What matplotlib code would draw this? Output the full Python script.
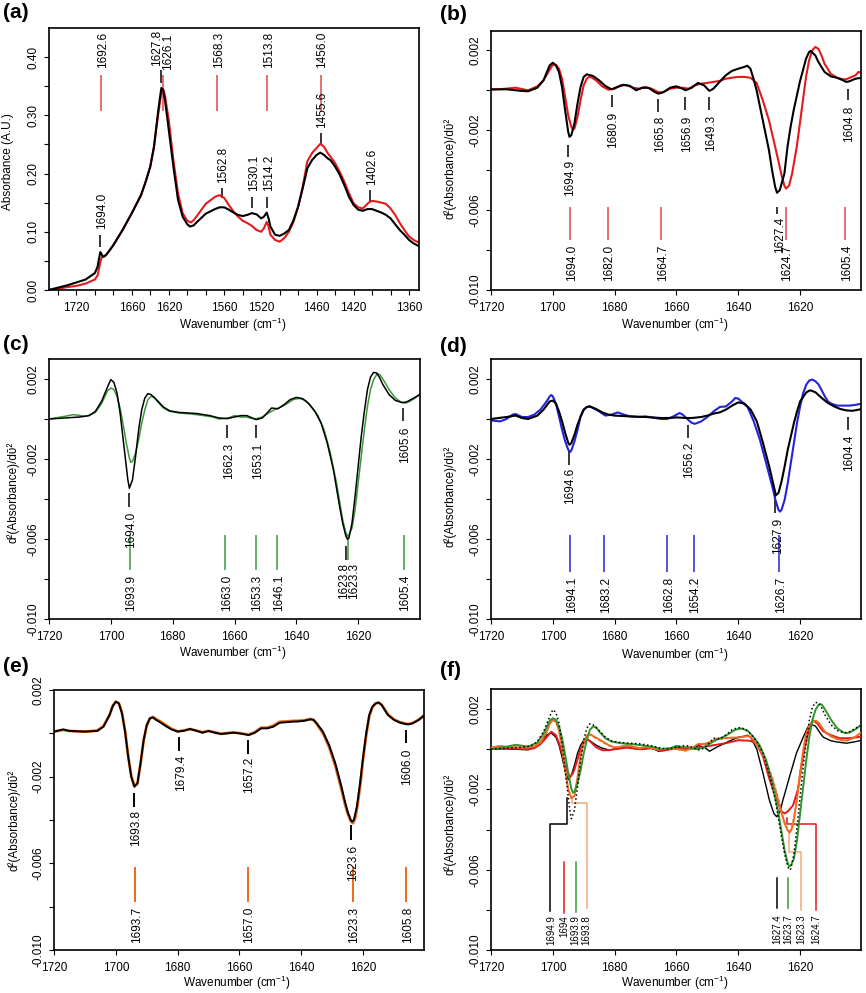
import matplotlib
matplotlib.use('Agg')
import matplotlib.pyplot as plt
from matplotlib import transforms

plt.rcParams['font.family'] = ['Liberation Sans', 'DejaVu Sans']
plt.rcParams['mathtext.fontset'] = 'custom'
plt.rcParams['mathtext.rm'] = 'Liberation Sans'
plt.rcParams['mathtext.it'] = 'Liberation Sans:italic'

# ---------------- data (wavenumber, value) ----------------
a_black = [(1750,0.0),(1740,0.004),(1730,0.008),(1720,0.013),(1710,0.018),(1700,0.029),(1697,0.040),(1695,0.058),(1694,0.065),
           (1693,0.062),(1691,0.057),(1688,0.060),(1685,0.066),(1680,0.077),(1670,0.103),(1660,0.132),(1650,0.163),(1645,0.186),
           (1640,0.212),(1636,0.246),(1632,0.300),(1630,0.325),(1628,0.347),(1626,0.343),(1624,0.325),(1622,0.300),(1620,0.275),
           (1615,0.212),(1610,0.155),(1605,0.126),(1600,0.113),(1597,0.109),(1593,0.111),(1590,0.116),(1580,0.131),(1570,0.139),
           (1565,0.142),(1560,0.142),(1555,0.138),(1550,0.133),(1545,0.129),(1540,0.127),(1535,0.129),(1530,0.132),(1525,0.130),
           (1520,0.123),(1517,0.126),(1514,0.133),(1512,0.123),(1510,0.109),(1505,0.095),(1500,0.093),(1495,0.097),(1490,0.103),
           (1485,0.120),(1480,0.143),(1475,0.175),(1470,0.209),(1465,0.223),(1460,0.232),(1456,0.236),(1452,0.232),(1448,0.226),
           (1445,0.223),(1440,0.212),(1435,0.198),(1430,0.180),(1425,0.160),(1420,0.146),(1415,0.138),(1410,0.136),(1405,0.139),
           (1402,0.139),(1400,0.139),(1395,0.136),(1390,0.133),(1385,0.129),(1380,0.123),(1375,0.113),(1370,0.103),(1365,0.095),
           (1360,0.086),(1355,0.080),(1349,0.075)]
a_red = [(1750,0.0),(1740,0.002),(1730,0.005),(1720,0.007),(1710,0.011),(1700,0.018),(1697,0.025),(1695,0.040),(1694,0.049),
         (1692,0.058),(1690,0.057),(1688,0.060),(1685,0.066),(1680,0.077),(1670,0.103),(1660,0.132),(1650,0.163),(1645,0.186),
         (1640,0.212),(1636,0.246),(1632,0.295),(1630,0.318),(1628,0.338),(1626,0.345),(1624,0.333),(1622,0.312),(1620,0.292),
         (1615,0.223),(1610,0.166),(1605,0.132),(1600,0.119),(1596,0.116),(1593,0.120),(1590,0.126),(1580,0.148),(1570,0.160),
         (1565,0.163),(1560,0.158),(1555,0.146),(1550,0.135),(1545,0.126),(1540,0.119),(1535,0.115),(1530,0.110),(1525,0.103),
         (1520,0.100),(1517,0.106),(1514,0.117),(1512,0.109),(1510,0.095),(1505,0.086),(1500,0.083),(1495,0.089),(1490,0.100),
         (1485,0.117),(1480,0.143),(1475,0.178),(1470,0.221),(1465,0.235),(1460,0.244),(1456,0.251),(1452,0.246),(1448,0.235),
         (1445,0.229),(1440,0.218),(1435,0.203),(1430,0.186),(1425,0.166),(1420,0.149),(1415,0.142),(1410,0.140),(1405,0.148),
         (1402,0.152),(1400,0.153),(1395,0.152),(1390,0.150),(1385,0.148),(1380,0.140),(1375,0.129),(1370,0.115),(1365,0.103),
         (1360,0.092),(1355,0.086),(1349,0.081)]

b_black = [(1720,0.00005),(1715,0.00005),(1710,-0.00003),(1708,-0.00005),(1705,0.00013),(1703,0.0005),(1701,0.00125),(1700,0.00138),
           (1699,0.00125),(1698,0.00092),(1697,0.00017),(1696,-0.001),(1695,-0.00208),(1694.6,-0.00233),(1694,-0.00225),(1693,-0.00167),
           (1692,-0.00067),(1691,0.00017),(1690,0.00067),(1689,0.0008),(1687,0.00072),(1685,0.0005),(1683,0.00022),(1681,0.00005),
           (1679,0.00017),(1677,0.00028),(1675,0.00022),(1673,0.0),(1671,0.00013),(1669,0.00012),(1667,-0.00008),(1665.8,-0.00017),
           (1664,-0.00008),(1662,0.00013),(1660,0.0002),(1658,0.00008),(1657,0.0),(1655,0.00013),(1653,0.00037),(1651,0.00025),
           (1649.3,-0.00003),(1648,0.00008),(1646,0.00042),(1644,0.00075),(1642,0.00097),(1640,0.00108),(1638,0.00117),(1637,0.00123),
           (1636,0.00108),(1635,0.00058),(1634,0.0),(1632,-0.0015),(1630,-0.003),(1629,-0.004),(1628,-0.00483),(1627.4,-0.00513),
           (1626.5,-0.005),(1625,-0.00417),(1624,-0.00283),(1623,-0.00183),(1622,-0.001),(1620,0.00042),(1618,0.00158),(1617,0.00192),
           (1616.5,0.00197),(1615,0.00175),(1614,0.00142),(1612,0.00092),(1610,0.0007),(1608,0.00063),(1606,0.0005),(1605,0.00042),
           (1604,0.00045),(1602,0.00058),(1600,0.00063)]
b_red = [(1720,0.00003),(1716,0.00007),(1712,0.00013),(1708,0.0),(1705,0.0002),(1703,0.0005),(1701,0.00103),(1700,0.00128),
         (1699,0.00128),(1698,0.00108),(1697,0.00058),(1696,-0.00033),(1695,-0.00125),(1694,-0.00183),(1693.5,-0.00197),(1693,-0.00192),
         (1692,-0.00133),(1691,-0.0005),(1690,0.00025),(1689,0.00058),(1688,0.0007),(1686,0.0005),(1684,0.0002),(1682,0.00003),
         (1680,0.00008),(1678,0.00025),(1676,0.00025),(1674,0.00013),(1672,0.00008),(1670,0.00017),(1668,0.00008),(1666,-0.00008),
         (1664.7,-0.00012),(1662,0.00008),(1660,0.00013),(1658,0.00013),(1656,0.00008),(1654,0.00025),(1652,0.00033),(1650,0.00037),
         (1648,0.00042),(1646,0.00047),(1644,0.00058),(1642,0.00063),(1640,0.00067),(1638,0.00067),(1636,0.00063),(1634,0.00037),
         (1632,-0.0005),(1630,-0.0015),(1628,-0.00283),(1627,-0.0035),(1626,-0.0042),(1625,-0.00478),(1624.5,-0.00492),(1623.5,-0.00478),
         (1622.5,-0.00417),(1621,-0.00283),(1620,-0.00167),(1618,0.00067),(1617,0.0015),(1616,0.002),(1615,0.00217),(1614,0.00208),
         (1613,0.00175),(1612,0.00133),(1610,0.00083),(1608,0.00063),(1606,0.00055),(1605,0.00055),(1604,0.00062),(1602,0.00075),
         (1601,0.00092),(1600,0.00087)]

c_black = [(1720,0.0),(1715,0.00005),(1710,0.0001),(1707,0.00017),(1705,0.00038),(1703,0.00088),(1701,0.00163),(1700,0.00197),
           (1699,0.00183),(1698,0.0013),(1697,0.0003),(1696,-0.00104),(1695,-0.00237),(1694.5,-0.00304),(1694,-0.00346),(1693,-0.00304),
           (1692,-0.00187),(1691,-0.00054),(1690,0.00047),(1689,0.00105),(1688,0.00127),(1687,0.00122),(1685,0.00093),(1683,0.0006),
           (1681,0.00041),(1678,0.00033),(1675,0.0003),(1672,0.00027),(1668,0.00017),(1665,0.00005),(1662.3,0.00002),(1660,0.0001),
           (1658,0.00017),(1656,0.00017),(1655,0.0001),(1653,-0.00003),(1651,0.00005),(1649,0.00038),(1648,0.00055),(1646,0.00051),
           (1644,0.00071),(1642,0.00097),(1640,0.00108),(1638,0.00102),(1636,0.00077),(1634,0.00038),(1632,-0.0002),(1630,-0.0012),
           (1628,-0.00254),(1626,-0.00438),(1625,-0.00521),(1624,-0.00584),(1623.5,-0.00601),(1623,-0.00596),(1622,-0.00521),
           (1621,-0.00387),(1620,-0.00237),(1619,-0.00087),(1618,0.00038),(1617,0.00147),(1616,0.0021),(1615,0.00233),(1614,0.0023),
           (1613,0.00205),(1612,0.00172),(1610,0.00122),(1608,0.00093),(1606,0.00083),(1605,0.00083),(1604,0.00088),(1602,0.00105),
           (1600,0.00122)]
c_green = [(1720,0.0),(1715,0.00013),(1712,0.00022),(1708,0.00013),(1705,0.00033),(1703,0.00077),(1701,0.00142),(1700,0.00155),
           (1699,0.00147),(1698,0.00113),(1697,0.00055),(1696,-0.00028),(1695,-0.0012),(1694,-0.00196),(1693.5,-0.00217),(1693,-0.00212),
           (1692,-0.0017),(1691,-0.00104),(1690,-0.0002),(1689,0.00047),(1688,0.00097),(1687,0.00113),(1686,0.0011),(1685,0.00088),
           (1683,0.00055),(1681,0.00038),(1678,0.0003),(1674,0.00025),(1670,0.00017),(1667,0.0001),(1665,0.0),(1662,0.00005),
           (1660,0.00017),(1658,0.0001),(1656,0.0001),(1655,0.00005),(1653.3,0.0),(1651,0.0001),(1649,0.0003),(1647,0.00047),
           (1645,0.0006),(1643,0.00077),(1641,0.00097),(1639,0.00103),(1637,0.00093),(1635,0.0006),(1633,0.00017),(1631,-0.00054),
           (1629,-0.0017),(1627,-0.0032),(1625,-0.00504),(1624,-0.00568),(1623.5,-0.00584),(1623,-0.00579),(1622,-0.00546),
           (1621,-0.00454),(1620,-0.0032),(1619,-0.00187),(1618,-0.00054),(1617,0.00063),(1616,0.00147),(1615,0.00197),(1614,0.00222),
           (1613.5,0.00225),(1613,0.00222),(1612,0.002),(1610,0.00147),(1608,0.00105),(1606,0.00083),(1605,0.0008),(1604,0.00083),
           (1602,0.001),(1600,0.00125)]

d_black = [(1720,0.0),(1715,0.0001),(1712,0.00017),(1710,0.00005),(1708,0.0),(1705,0.00017),(1703,0.00047),(1701,0.00088),
           (1700,0.00092),(1699,0.00077),(1698,0.00038),(1697,-0.00012),(1696,-0.0007),(1695,-0.0012),(1694.6,-0.00129),(1694,-0.0012),
           (1693,-0.00079),(1692,-0.00028),(1691,0.00013),(1690,0.00047),(1689,0.0006),(1688,0.00063),(1686,0.0005),(1684,0.00033),
           (1682,0.00022),(1680,0.00017),(1675,0.00013),(1670,0.0001),(1665,0.00005),(1662,0.00005),(1660,0.00008),(1657,0.00005),
           (1655,0.00005),(1652,0.0001),(1650,0.00017),(1648,0.00027),(1646,0.00033),(1644,0.00047),(1642,0.00067),(1640,0.00083),
           (1638,0.00077),(1636,0.00047),(1634,-0.00012),(1632,-0.0012),(1630,-0.00237),(1628.5,-0.00337),(1628,-0.0037),
           (1627.9,-0.00382),(1627,-0.0037),(1626,-0.00312),(1625,-0.00237),(1624,-0.00154),(1623,-0.00087),(1622,-0.0002),
           (1621,0.00038),(1620,0.00088),(1618,0.00133),(1617,0.00142),(1616.5,0.00143),(1615,0.00133),(1613,0.00105),(1611,0.0008),
           (1609,0.00063),(1607,0.0005),(1605,0.00043),(1603,0.00041),(1601,0.00047),(1600,0.0005)]
d_blue = [(1720,-0.00007),(1717,-0.00012),(1715,0.0),(1713,0.00022),(1712,0.00025),(1710,0.0001),(1708,0.0001),(1706,0.00022),
          (1704,0.00047),(1702,0.00088),(1701,0.00113),(1700.5,0.0012),(1700,0.00113),(1699,0.00077),(1698,0.00013),(1697,-0.00054),
          (1696,-0.00112),(1695,-0.00154),(1694.5,-0.00166),(1694,-0.00157),(1693,-0.00112),(1692,-0.00054),(1691,0.00013),
          (1690,0.00047),(1689,0.0006),(1688,0.00063),(1687,0.00055),(1685,0.00038),(1683,0.00017),(1681,0.00022),(1679,0.00033),
          (1677,0.00022),(1675,0.00013),(1672,0.0001),(1670,0.00013),(1668,0.00008),(1665,0.0),(1663,0.0),(1661,0.00013),
          (1659,0.0003),(1658,0.00022),(1656,-0.00007),(1655,-0.0002),(1654,-0.00024),(1652,-0.00012),(1650,0.0001),(1648,0.00038),
          (1646,0.0006),(1644,0.00063),(1642,0.00088),(1641,0.00105),(1640,0.00102),(1639,0.00088),(1637,0.0006),(1635,-0.00012),
          (1633,-0.00104),(1631,-0.0022),(1629,-0.00337),(1628,-0.00404),(1627,-0.00454),(1626.5,-0.00463),(1626,-0.00454),
          (1625,-0.00404),(1624,-0.0032),(1623,-0.0022),(1622,-0.0012),(1621,-0.0002),(1620,0.00063),(1619,0.0013),(1618,0.00172),
          (1617,0.00193),(1616,0.00197),(1615,0.00188),(1614,0.00172),(1613,0.00143),(1612,0.00113),(1611,0.00088),(1610,0.00077),
          (1608,0.00067),(1606,0.00067),(1604,0.00067),(1602,0.00071),(1600,0.00077)]

e_black = [(1720,0.00008),(1717,0.00018),(1715,0.00011),(1710,0.00008),(1706,0.00011),(1704,0.00031),(1702,0.00085),(1701,0.00126),
           (1700,0.00146),(1699,0.00138),(1698,0.00092),(1697,0.00008),(1696,-0.00108),(1695,-0.002),(1694,-0.00246),(1693,-0.00231),
           (1692,-0.00138),(1691,-0.00031),(1690,0.00038),(1689,0.00069),(1688,0.00074),(1687,0.00062),(1686,0.00054),(1684,0.00035),
           (1682,0.00018),(1680,0.00008),(1678,0.00012),(1676,0.0002),(1674,0.00012),(1672,0.00003),(1670,0.00011),(1668,0.00003),
           (1666,-0.00003),(1664,0.0),(1662,0.00003),(1660,0.0),(1657,-0.00008),(1655,0.00003),(1653,0.00023),(1651,0.00023),
           (1649,0.00031),(1647,0.00049),(1645,0.00051),(1643,0.00054),(1641,0.00055),(1639,0.00058),(1637,0.00065),(1636,0.00062),
           (1635,0.00046),(1633,0.00008),(1631,-0.00054),(1629,-0.00138),(1627,-0.00246),(1626,-0.00308),(1625,-0.00362),(1624,-0.004),
           (1623.5,-0.00408),(1623,-0.004),(1622,-0.00338),(1621,-0.00231),(1620,-0.00108),(1619,0.0),(1618,0.00085),(1617,0.00123),
           (1616,0.00138),(1615,0.00142),(1614,0.00131),(1613,0.00108),(1612,0.00085),(1610,0.00062),(1608,0.00049),(1606,0.00042),
           (1605,0.00042),(1604,0.00046),(1602,0.00062),(1600,0.00085)]
e_orange = [(1720,0.00008),(1717,0.00016),(1715,0.00011),(1710,0.00008),(1706,0.00013),(1704,0.00033),(1702,0.00086),(1701,0.00127),
            (1700,0.00146),(1699,0.00138),(1698,0.00094),(1697,0.0001),(1696,-0.00104),(1695,-0.00198),(1694,-0.00244),(1693,-0.00231),
            (1692,-0.0014),(1691,-0.00033),(1690,0.00036),(1689,0.00068),(1688,0.00075),(1687,0.00066),(1686,0.00058),(1684,0.0004),
            (1682,0.00021),(1680,0.00009),(1678,0.00013),(1676,0.0002),(1674,0.00013),(1672,0.00005),(1670,0.00011),(1668,0.00005),
            (1666,-0.00002),(1664,0.00001),(1662,0.00004),(1660,0.00001),(1657,-0.00006),(1655,0.00006),(1653,0.00026),(1651,0.00026),
            (1649,0.00036),(1647,0.00053),(1645,0.00055),(1643,0.00057),(1641,0.00058),(1639,0.0006),(1637,0.00066),(1636,0.00061),
            (1635,0.00043),(1633,0.0),(1631,-0.00064),(1629,-0.0015),(1627,-0.0026),(1626,-0.0032),(1625,-0.0037),(1624,-0.00405),
            (1623.3,-0.00415),(1622.5,-0.0039),(1622,-0.0035),(1621,-0.0025),(1620,-0.0012),(1619,-0.0001),(1618,0.0008),
            (1617,0.0012),(1616,0.00137),(1615,0.00142),(1614,0.00132),(1613,0.0011),(1612,0.00088),(1610,0.00064),(1608,0.00051),
            (1606,0.00044),(1605,0.00044),(1604,0.00048),(1602,0.00063),(1600,0.00086)]

f_black = [(1720,0.0),(1716,0.00002),(1712,0.0),(1708,-0.00003),(1706,0.0001),(1704,0.00035),(1702,0.0007),(1700.6,0.00082),
           (1699,0.0006),(1698,0.0002),(1697,-0.0004),(1696,-0.0011),(1695,-0.00152),(1694,-0.0013),(1693,-0.0008),(1692,-0.0002),
           (1691,0.0002),(1690,0.00045),(1689.5,0.0005),(1688,0.00042),(1686,0.0002),(1684,0.00005),(1682,-0.00003),(1680,0.0),
           (1676,0.0001),(1672,0.0),(1668,0.00005),(1665.8,-0.0001),(1662,0.0),(1660,0.00012),(1657,0.0),(1654,0.0001),(1653,0.00018),
           (1651,0.0001),(1649.3,-0.0001),(1647,0.0001),(1645,0.00025),(1643,0.0004),(1640,0.0006),(1638,0.00065),(1637,0.0007),
           (1636,0.0006),(1635,0.0003),(1634,0.0),(1632,-0.0012),(1630,-0.0025),(1628.5,-0.0032),(1627.6,-0.00336),(1626.5,-0.0031),
           (1625.5,-0.0025),(1623.4,-0.00136),(1621.2,-0.0002),(1619,0.0006),(1617.5,0.0011),(1616.4,0.00123),(1615,0.00115),
           (1613.5,0.0008),(1612.5,0.0006),(1610,0.00042),(1608,0.00036),(1605,0.0003),(1602,0.00038),(1600,0.00045)]
f_red = [(1720,0.00003),(1714,0.00005),(1708,0.0),(1706,0.00005),(1704,0.00025),(1702,0.0006),(1700.5,0.00087),(1699,0.0007),
         (1698,0.0003),(1697,-0.0002),(1696,-0.0008),(1695,-0.0012),(1694.5,-0.00139),(1693.5,-0.0012),(1693,-0.001),(1692,-0.0005),
         (1691,0.0),(1690,0.0003),(1689,0.0005),(1688,0.0004),(1686,0.0001),(1684,-0.00005),(1682,-0.00005),(1680,0.0),(1676,0.00008),
         (1672,0.0),(1668,0.00005),(1664.7,-0.00008),(1660,0.00005),(1656,0.0),(1652,0.0001),(1648,0.0002),(1644,0.0003),(1640,0.00045),
         (1636.3,0.00042),(1634.2,0.0003),(1632,-0.00037),(1629.9,-0.0015),(1627.7,-0.0025),(1626,-0.0031),(1625,-0.0032),(1624,-0.0031),
         (1622.3,-0.0028),(1620.7,-0.002),(1619.6,-0.0009),(1618.5,0.0001),(1616.9,0.0011),(1615.8,0.00143),(1614.5,0.0013),
         (1612.6,0.0009),(1610,0.0007),(1607.2,0.00055),(1604,0.00055),(1600,0.00063)]

# peak annotations: (line x, line y0, line y1, label, text x, text y)
a_red_marks = [(1692.9,0.307,0.370,'1692.6',1692.9,0.381),(1626.2,0.307,0.370,'1626.1',1622.2,0.378),
               (1567.8,0.307,0.370,'1568.3',1567.8,0.381),(1513.6,0.307,0.370,'1513.8',1513.6,0.381),
               (1455.7,0.307,0.370,'1456.0',1455.7,0.381)]
a_black_marks_up = [(1694.4,0.0745,0.0946,'1694.0',1694.4,0.105),(1628.7,0.355,0.378,'1627.8',1635.0,0.384),
                    (1562.7,0.158,0.175,'1562.8',1562.7,0.183),(1529.9,0.140,0.160,'1530.1',1529.9,0.170),
                    (1513.6,0.140,0.160,'1514.2',1513.6,0.170),(1455.6,0.249,0.269,'1455.6',1455.6,0.278),
                    (1401.8,0.152,0.172,'1402.6',1401.8,0.180)]
b_black_marks = [(1695.0,-0.00275,-0.00333,'1694.9',1695.0,-0.0035),(1680.9,-0.00025,-0.00083,'1680.9',1680.9,-0.00108),
                 (1665.9,-0.00042,-0.00108,'1665.8',1665.9,-0.00125),(1657.1,-0.00033,-0.001,'1656.9',1657.1,-0.00125),
                 (1649.3,-0.00033,-0.001,'1649.3',1649.3,-0.00125),(1604.5,0.00008,-0.0005,'1604.8',1604.5,-0.00075),
                 (1627.4,-0.00583,-0.00617,'1627.4',1627.0,-0.00633)]
b_red_marks = [(1694.3,-0.00583,-0.0075,'1694.0',1694.3,-0.00775),(1682.2,-0.00583,-0.0075,'1682.0',1682.2,-0.00775),
               (1664.8,-0.00583,-0.0075,'1664.7',1664.8,-0.00775),(1624.6,-0.00583,-0.0075,'1624.7',1624.6,-0.00775),
               (1605.3,-0.00583,-0.0075,'1605.4',1605.3,-0.00775)]
c_black_marks = [(1694.0,-0.00371,-0.00438,'1694.0',1694.0,-0.00463),(1662.3,-0.00029,-0.00095,'1662.3',1662.3,-0.0012),
                 (1653.0,-0.00029,-0.00095,'1653.1',1653.0,-0.0012),(1605.4,0.00055,-0.00012,'1605.6',1605.4,-0.00037),
                 (1623.8,-0.00635,-0.00705,'1623.8',1625.1,-0.00721)]
c_green_marks = [(1693.9,-0.0058,-0.00755,'1693.9',1693.9,-0.0078),(1663.0,-0.0058,-0.00755,'1663.0',1663.0,-0.0078),
                 (1653.2,-0.0058,-0.00755,'1653.3',1653.2,-0.0078),(1646.1,-0.0058,-0.00755,'1646.1',1646.1,-0.0078),
                 (1623.3,-0.0058,-0.00705,'1623.3',1621.8,-0.00721),(1605.3,-0.0058,-0.00755,'1605.4',1605.3,-0.0078)]
d_black_marks = [(1694.9,-0.00154,-0.00229,'1694.6',1694.9,-0.00246),(1656.4,-0.00029,-0.00095,'1656.2',1656.4,-0.00112),
                 (1604.6,0.0001,-0.00054,'1604.4',1604.6,-0.00079),(1628.0,-0.00387,-0.00471,'1627.9',1627.8,-0.00496)]
d_blue_marks = [(1694.3,-0.0058,-0.00763,'1694.1',1694.3,-0.00788),(1683.3,-0.0058,-0.00763,'1683.2',1683.3,-0.00788),
                (1663.0,-0.0058,-0.00763,'1662.8',1663.0,-0.00788),(1654.4,-0.0058,-0.00763,'1654.2',1654.4,-0.00788),
                (1626.7,-0.0058,-0.00763,'1626.7',1626.7,-0.00788)]
e_black_marks = [(1694.0,-0.00277,-0.00338,'1693.8',1694.0,-0.00354),(1679.5,-0.00018,-0.0008,'1679.4',1679.5,-0.001),
                 (1657.4,-0.00031,-0.00095,'1657.2',1657.4,-0.00108),(1606.2,0.00015,-0.00046,'1606.0',1606.2,-0.00069),
                 (1623.8,-0.00423,-0.00492,'1623.6',1623.8,-0.00515)]
e_orange_marks = [(1693.8,-0.00615,-0.00777,'1693.7',1693.8,-0.008),(1657.4,-0.00615,-0.00777,'1657.0',1657.4,-0.008),
                  (1623.4,-0.00615,-0.00777,'1623.3',1623.4,-0.008),(1606.0,-0.00615,-0.00777,'1605.8',1606.0,-0.008)]
# panel (f) leader lines and labels
f_leaders = [([1695.4,1695.4,1700.8,1700.8],[-0.00244,-0.0037,-0.0037,-0.00805],'k','1694.9',1700.6),
             ([1696.4,1696.4],[-0.0056,-0.00815],'#E31A1C','1694',1696.4),
             ([1692.6,1692.6],[-0.0056,-0.0081],'#3C9A3C','1693.9',1692.6),
             ([1693.7,1693.7,1689.1,1689.1],[-0.00245,-0.00269,-0.00269,-0.00792],'#F5A878','1693.8',1689.1),
             ([1627.4,1627.4],[-0.00643,-0.00792],'k','1627.4',1627.4),
             ([1623.8,1623.8],[-0.00643,-0.00792],'#3C9A3C','1623.7',1623.7),
             ([1623.6,1623.6,1619.7,1619.7],[-0.00418,-0.0051,-0.0051,-0.008],'#F5A878','1623.3',1619.7),
             ([1624.4,1624.4,1614.7,1614.7],[-0.00343,-0.00372,-0.00372,-0.008],'#E31A1C','1624.7',1614.7)]

RED = '#E31A1C'
RED_M = '#E04848'
GREEN = '#3A9A3A'
BLUE = '#2323DD'
ORANGE = '#F06A1E'

fig = plt.figure(figsize=(8.66, 9.93), dpi=100)

def make_ax(l, t, r, b):
    return fig.add_axes([l / 866, 1 - b / 993, (r - l) / 866, (b - t) / 993])

def style(ax, xlim, ylim, xt, xtl, yt, ytl):
    ax.set_xlim(*xlim)
    ax.set_ylim(*ylim)
    ax.set_xticks(xt)
    ax.set_xticklabels(xtl)
    ax.set_yticks(yt)
    ax.set_yticklabels(ytl, rotation=90, va='center')
    ax.tick_params(direction='out', length=3.8, width=0.8, labelsize=8.5)
    ax.tick_params(axis='x', pad=5)
    ax.tick_params(axis='y', pad=3)
    for s in ax.spines.values():
        s.set_linewidth(1.2)

def curve(ax, data, **kw):
    xs = [p[0] for p in data]
    ys = [p[1] for p in data]
    ax.plot(xs, ys, **kw)

def marks(ax, lst, color, va, size=8.5, lw=1.1):
    off = transforms.offset_copy(ax.transData, fig=fig, x=1.2, y=0, units='points')
    for (x, y0, y1, lab, tx, ty) in lst:
        ax.plot([x, x], [y0, y1], color=color, lw=lw, solid_capstyle='butt', zorder=1)
        ax.text(tx, ty, lab, rotation=90, ha='center', va=va, fontsize=size, transform=off, zorder=5)

DX = [1720, 1700, 1680, 1660, 1640, 1620]
DXL = ['1720', '1700', '1680', '1660', '1640', '1620']
DY = [0.002, 0.0, -0.002, -0.004, -0.006, -0.008, -0.010]
DYL = ['0.002', '', '-0.002', '', '-0.006', '', '-0.010']
YLAB = 'd\u00b2(Absorbance)/d\u1fe1\u00b2'
XLAB = r'Wavenumber (cm$^{\mathregular{-1}}$)'

# ---------- (a) ----------
ax = make_ax(49, 28, 419, 290)
curve(ax, a_red, color=RED, lw=1.5, zorder=2)
curve(ax, a_black, color='k', lw=1.5, zorder=3)
marks(ax, a_red_marks, RED_M, 'bottom')
marks(ax, a_black_marks_up, 'k', 'bottom')
ax_ticks = list(range(1740, 1359, -20))
ax_lab = [str(t) if t in (1720, 1660, 1620, 1560, 1520, 1460, 1420, 1360) else '' for t in ax_ticks]
ay = [0.0, 0.05, 0.10, 0.15, 0.20, 0.25, 0.30, 0.35, 0.40]
ayl = ['0.00', '', '0.10', '', '0.20', '', '0.30', '', '0.40']
style(ax, (1749.6, 1349.2), (0, 0.45), ax_ticks, ax_lab, ay, ayl)

# ---------- (b) ----------
ax = make_ax(491, 31, 861, 290)
curve(ax, b_red, color=RED, lw=1.5, zorder=2)
curve(ax, b_black, color='k', lw=1.5, zorder=3)
marks(ax, b_black_marks, 'k', 'top')
marks(ax, b_red_marks, RED_M, 'top')
style(ax, (1720, 1600.2), (-0.010, 0.00297), DX, DXL, DY, DYL)

# ---------- (c) ----------
ax = make_ax(49, 359, 420, 619)
curve(ax, c_black, color='k', lw=1.1, zorder=3)
curve(ax, c_green, color=GREEN, lw=1.1, zorder=2)
marks(ax, c_black_marks, 'k', 'top')
marks(ax, c_green_marks, GREEN, 'top')
style(ax, (1720, 1600), (-0.010, 0.003), DX, DXL, DY, DYL)

# ---------- (d) ----------
ax = make_ax(491, 359, 861, 619)
curve(ax, d_blue, color=BLUE, lw=1.5, zorder=2)
curve(ax, d_black, color='k', lw=1.5, zorder=3)
marks(ax, d_black_marks, 'k', 'top')
marks(ax, d_blue_marks, BLUE, 'top')
style(ax, (1720, 1600.3), (-0.010, 0.003), DX, DXL, DY, DYL)

# ---------- (e) ----------
ax = make_ax(54, 690, 424, 950)
curve(ax, e_orange, color=ORANGE, lw=2.0, zorder=2)
curve(ax, e_black, color='k', lw=1.4, zorder=3)
marks(ax, e_black_marks, 'k', 'top', lw=1.4)
marks(ax, e_orange_marks, ORANGE, 'top', lw=1.4)
style(ax, (1720, 1600.3), (-0.010, 0.002), DX, DXL, DY, DYL)

# ---------- (f) ----------
ax = make_ax(491, 689, 861, 950)
curve(ax, e_black, color='#9C9088', lw=1.0, dashes=(2.5, 1.5), zorder=2)
curve(ax, f_black, color='k', lw=1.0, zorder=3)
curve(ax, f_red, color=RED, lw=1.4, zorder=4)
curve(ax, e_orange, color='#F26B21', lw=1.4, zorder=4)
curve(ax, c_green, color='#2E962E', lw=1.4, zorder=5)
curve(ax, c_black, color='k', lw=1.1, ls=':', zorder=6)
for xs, ys, col, lab, tx in f_leaders:
    ax.plot(xs, ys, color=col, lw=1.1, zorder=1)
    ax.text(tx, -0.00825, lab, rotation=90, ha='center', va='top', fontsize=7, zorder=7)
style(ax, (1720, 1600.3), (-0.010, 0.003), DX, DXL, DY, DYL)

# ---------- labels ----------
def ftext(x, y, s, **kw):
    fig.text(x / 866, 1 - y / 993, s, **kw)

for (x, y) in [(233, 325), (675, 325), (233, 653), (675, 655), (237, 983), (675, 983)]:
    ftext(x, y, XLAB, ha='center', va='center', fontsize=8.5)
ftext(8, 162, 'Absorbance (A.U.)', rotation=90, ha='center', va='center', fontsize=8.5)
for (x, y) in [(450, 168), (13, 492), (450, 496), (14, 820), (450, 824)]:
    ftext(x, y, YLAB, rotation=90, ha='center', va='center', fontsize=8.5)
for (x, y, s) in [(3, 3, '(a)'), (440, 5, '(b)'), (3, 335, '(c)'), (440, 337, '(d)'), (3, 657, '(e)'), (440, 661, '(f)')]:
    ftext(x, y, s, ha='left', va='top', fontsize=15, fontweight='bold')

fig.savefig('out.png', dpi=100)
